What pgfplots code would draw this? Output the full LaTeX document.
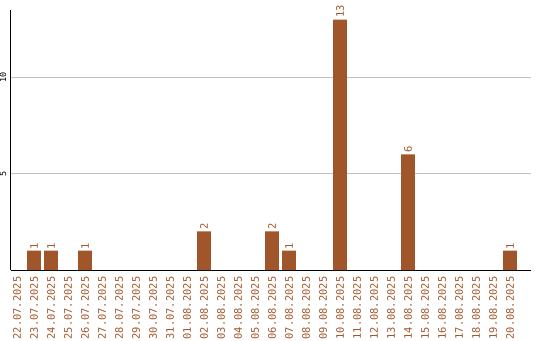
\documentclass[border=0pt]{standalone}
\usepackage{pgfplots}
\pgfplotsset{compat=1.18}
\usepackage{fontspec}
\setmonofont{DejaVu Sans Mono}
\definecolor{barc}{RGB}{160,86,42}
\definecolor{gridc}{RGB}{192,192,192}
\begin{document}
\begin{tikzpicture}
\begin{axis}[
  scale only axis, width=520.2pt, height=260pt,
  at={(0,0)}, anchor=south west,
  xmin=-0.382, xmax=30.22, ymin=0, ymax=13.5,
  axis x line*=bottom, axis y line*=left,
  every outer x axis line/.append style={-},
  every outer y axis line/.append style={-},
  axis line style={-, line width=1pt, black},
  ytick={5,10}, ymajorgrids,
  major grid style={gridc, line width=1pt},
  major tick length=0pt,
  xtick={0,...,29},
  xticklabels={22.07.2025,23.07.2025,24.07.2025,25.07.2025,26.07.2025,27.07.2025,28.07.2025,29.07.2025,30.07.2025,31.07.2025,01.08.2025,02.08.2025,03.08.2025,04.08.2025,05.08.2025,06.08.2025,07.08.2025,08.08.2025,09.08.2025,10.08.2025,11.08.2025,12.08.2025,13.08.2025,14.08.2025,15.08.2025,16.08.2025,17.08.2025,18.08.2025,19.08.2025,20.08.2025},
  xticklabel style={rotate=90, anchor=east, inner sep=0pt, font=\fontsize{10.4}{12}\selectfont\ttfamily, text=barc},
  xticklabel shift=6.5pt,
  yticklabel style={rotate=90, anchor=south, inner sep=0pt, font=\fontsize{8.5}{10}\selectfont\ttfamily},
  yticklabel shift=4pt,
  /pgf/number format/assume math mode=true,
  ybar, bar width=0.82,
  nodes near coords,
  nodes near coords style={rotate=90, anchor=west, inner sep=1.5pt, font=\fontsize{10.4}{12}\selectfont\ttfamily, text=barc},
]
\addplot[fill=barc, draw=none] coordinates {(1,1) (2,1) (4,1) (11,2) (15,2) (16,1) (19,13) (23,6) (29,1)};
\end{axis}
\pgfresetboundingbox
\useasboundingbox (-10.5pt,-70pt) rectangle (529.5pt,270pt);
\end{tikzpicture}
\end{document}
